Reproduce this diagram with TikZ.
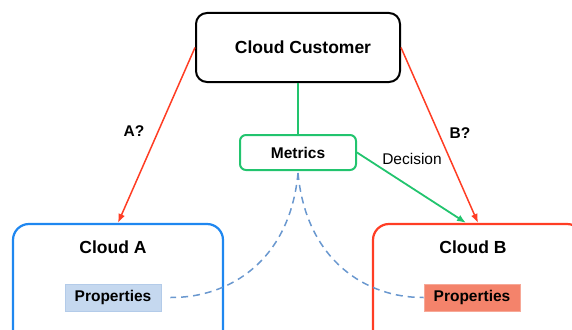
\documentclass[tikz,border=0pt]{standalone}
\usepackage{fontspec}
\setmainfont{Liberation Sans}
\usetikzlibrary{arrows.meta}

\definecolor{custred}{HTML}{FF3D24}
\definecolor{custblue}{HTML}{1F87F0}
\definecolor{custgreen}{HTML}{22C46E}
\definecolor{dashblue}{HTML}{6A98CF}
\definecolor{propblue}{HTML}{C5D8EF}
\definecolor{propred}{HTML}{F4836B}

\begin{document}
\begin{tikzpicture}[x=1pt,y=-1pt,
  box/.style={draw,line width=2pt,rounded corners=11pt,inner sep=0pt},
  big/.style={font=\fontsize{17.5}{20}\selectfont\bfseries},
  small/.style={font=\fontsize{15.5}{18}\selectfont\bfseries},
  prop/.style={small,minimum width=96pt,minimum height=27pt,inner sep=0pt,line width=0.8pt},
  redarrow/.style={custred,line width=1.5pt,-{Latex[length=9pt,width=7pt]}},
  greenline/.style={custgreen,line width=1.8pt}]
  \useasboundingbox (0,0) rectangle (572,329);
  \clip (0,0) rectangle (572,329);

  \node[box,black,minimum width=204pt,minimum height=69pt,big] (customer) at (298,47.5) {\hspace{10pt}Cloud Customer};
  \node[box,custgreen,rounded corners=6pt,minimum width=116pt,minimum height=35pt,small,text=black] (metrics) at (298,152.5) {Metrics};

  \node[box,custblue,line width=2.2pt,rounded corners=16pt,minimum width=210pt,minimum height=140pt] (cloudA) at (118,294) {};
  \node[big] (titleA) at (113,247) {Cloud A};
  \node[prop,draw=propblue!80!dashblue,fill=propblue] (propA) at (113,297.5) {Properties};

  \node[box,custred,line width=2.2pt,rounded corners=16pt,minimum width=210pt,minimum height=140pt] (cloudB) at (478,294) {};
  \node[big] (titleB) at (473,247) {Cloud B};
  \node[prop,draw=propred!70!white,fill=propred] (propB) at (472,297.5) {Properties};

  % customer asks which cloud
  \draw[redarrow] (customer.west) -- (cloudA.north);
  \draw[redarrow] (customer.east) -- (cloudB.north);
  \node[small] (askA) at (134,131) {A?};
  \node[small] (askB) at (460,133) {B?};

  % metrics lead to the decision
  \draw[greenline] (customer.south) -- (metrics.north);
  \draw[greenline,-{Latex[length=9pt,width=7pt]}] (metrics.east) -- ([xshift=-12pt]cloudB.north);
  \node[font=\fontsize{15.5}{18}\selectfont] (decision) at (412,159) {Decision};

  % properties feed the metrics
  \draw[dashblue,line width=1.5pt,dash pattern=on 7pt off 5pt]
    ([yshift=-2pt]metrics.south) .. controls (290,260) and (230,298) .. ([xshift=9pt]propA.east);
  \draw[dashblue,line width=1.5pt,dash pattern=on 7pt off 5pt]
    ([yshift=-2pt]metrics.south) .. controls (306,260) and (366,298) .. (propB.west);
\end{tikzpicture}
\end{document}
